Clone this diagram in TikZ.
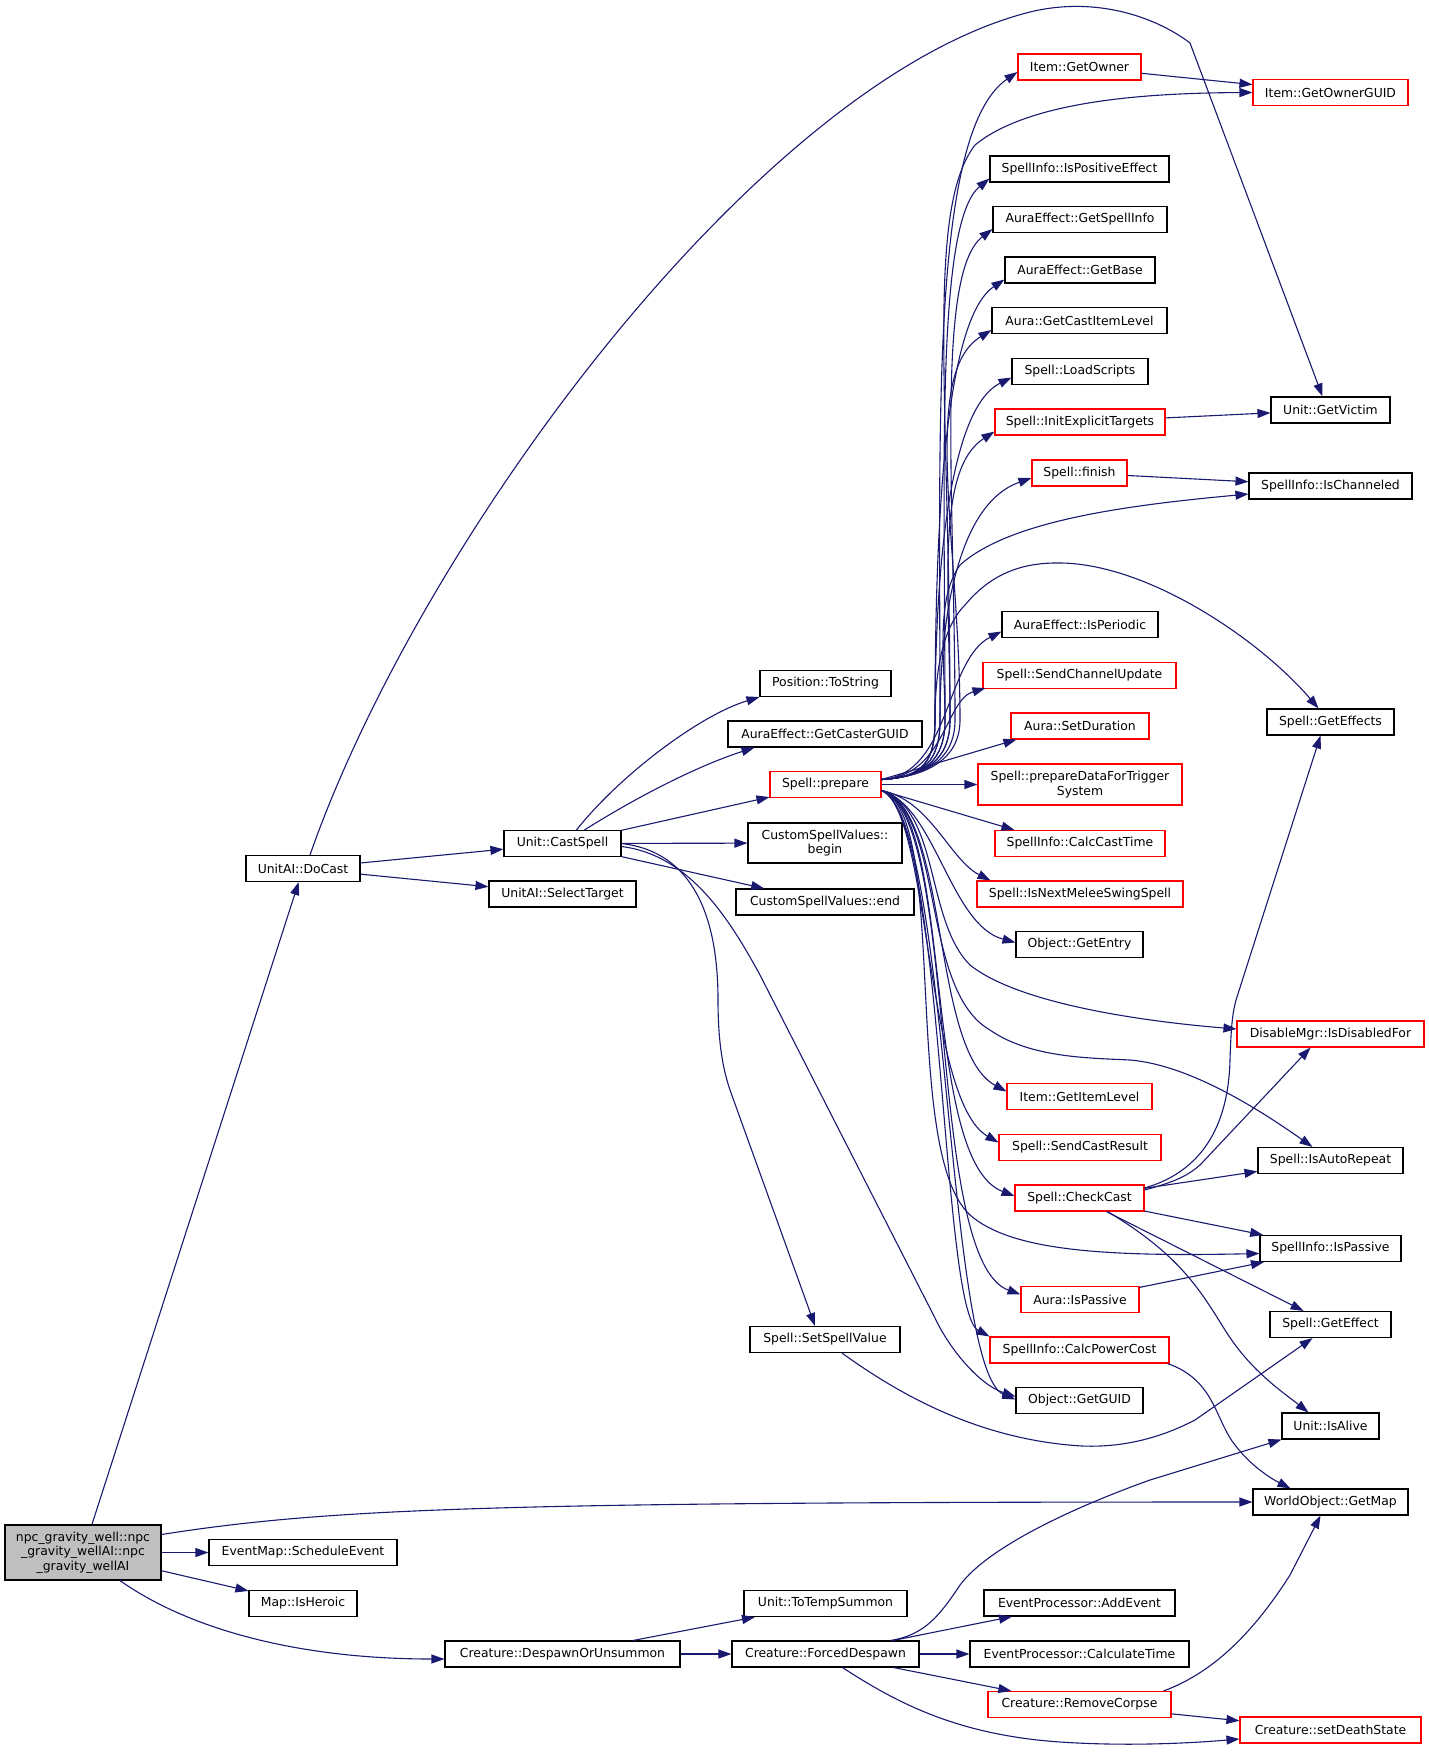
\documentclass[tikz,border=0pt]{standalone}
\usepackage{fontspec}
\setmainfont{DejaVu Sans}
\usetikzlibrary{arrows.meta,calc}
\definecolor{edgec}{HTML}{191970}
\definecolor{maingray}{HTML}{BFBFBF}
\newcommand\dxfont{\fontsize{12.4pt}{14.6pt}\selectfont}
\tikzset{
  nb/.style={draw=black, line width=1.1pt, fill=white, inner sep=0pt, minimum height=26pt, font=\dxfont, align=center},
  rb/.style={nb, draw=red},
  e/.style={draw=edgec, line width=1.1pt, -{Triangle[length=13pt,width=9pt]}, fill=none},
}
\begin{document}
\begin{tikzpicture}[x=1pt,y=-1pt]
\useasboundingbox (0,0) rectangle (1429,1753);
% column 1-2
\node[nb, fill=maingray, minimum width=156pt, minimum height=55pt] (main) at (83,1552.5) {npc\_gravity\_well::npc\\\_gravity\_wellAI::npc\\\_gravity\_wellAI};
\node[nb, minimum width=114pt] (docast) at (303,868.5) {UnitAI::DoCast};
\node[nb, minimum width=188pt] (schedule) at (303,1552.5) {EventMap::ScheduleEvent};
\node[nb, minimum width=108pt] (isheroic) at (303,1603.5) {Map::IsHeroic};
\node[nb, minimum width=117pt] (castspell) at (562.5,843.5) {Unit::CastSpell};
\node[nb, minimum width=147pt] (selecttarget) at (562.5,894) {UnitAI::SelectTarget};
\node[nb, minimum width=235pt] (despawn) at (562.5,1654) {Creature::DespawnOrUnsummon};
% column 3
\node[nb, minimum width=131pt] (tostring) at (825.5,683.5) {Position::ToString};
\node[nb, minimum width=194pt] (castercguid) at (825,734) {AuraEffect::GetCasterGUID};
\node[rb, minimum width=111pt] (prepare) at (825.5,784.5) {Spell::prepare};
\node[nb, minimum width=154pt, minimum height=40pt] (cbegin) at (825,843) {CustomSpellValues::\\begin};
\node[nb, minimum width=178pt] (cend) at (825,902) {CustomSpellValues::end};
\node[nb, minimum width=150pt] (setspellvalue) at (825,1339.5) {Spell::SetSpellValue};
\node[nb, minimum width=163pt] (totempsummon) at (825.5,1603.5) {Unit::ToTempSummon};
\node[nb, minimum width=187pt] (forced) at (825.5,1654) {Creature::ForcedDespawn};
% column 4
\node[rb, minimum width=123pt] (getowner) at (1079.5,67) {Item::GetOwner};
\node[nb, minimum width=179pt] (ispositive) at (1079.5,169) {SpellInfo::IsPositiveEffect};
\node[nb, minimum width=174pt] (getspellinfo) at (1080,219.5) {AuraEffect::GetSpellInfo};
\node[nb, minimum width=150pt] (getbase) at (1080,270) {AuraEffect::GetBase};
\node[nb, minimum width=175pt] (getcastitemlevel) at (1079.5,320.5) {Aura::GetCastItemLevel};
\node[nb, minimum width=136pt] (loadscripts) at (1080,371.5) {Spell::LoadScripts};
\node[rb, minimum width=170pt] (initexplicit) at (1080,422) {Spell::InitExplicitTargets};
\node[rb, minimum width=95pt] (finish) at (1079.5,473) {Spell::finish};
\node[nb, minimum width=156pt] (isperiodic) at (1080,624.5) {AuraEffect::IsPeriodic};
\node[rb, minimum width=193pt] (sendchannel) at (1079.5,675.5) {Spell::SendChannelUpdate};
\node[rb, minimum width=138pt] (setduration) at (1080,726) {Aura::SetDuration};
\node[rb, minimum width=204pt, minimum height=41pt] (pdfts) at (1080,784.5) {Spell::prepareDataForTrigger\\System};
\node[rb, minimum width=170pt] (calccasttime) at (1080,843.5) {SpellInfo::CalcCastTime};
\node[rb, minimum width=206pt] (isnextmelee) at (1080,894) {Spell::IsNextMeleeSwingSpell};
\node[nb, minimum width=127pt] (getentry) at (1079.5,944.5) {Object::GetEntry};
\node[rb, minimum width=145pt] (getitemlevel) at (1079.5,1096.5) {Item::GetItemLevel};
\node[rb, minimum width=162pt] (sendcastresult) at (1080,1147.5) {Spell::SendCastResult};
\node[rb, minimum width=129pt] (checkcast) at (1079.5,1198) {Spell::CheckCast};
\node[rb, minimum width=118pt] (aurapassive) at (1080,1299.5) {Aura::IsPassive};
\node[rb, minimum width=179pt] (calcpowercost) at (1079.5,1350) {SpellInfo::CalcPowerCost};
\node[nb, minimum width=127pt] (getguid) at (1079.5,1400.5) {Object::GetGUID};
\node[nb, minimum width=191pt] (addevent) at (1079.5,1603) {EventProcessor::AddEvent};
\node[nb, minimum width=219pt] (calctime) at (1079.5,1654) {EventProcessor::CalculateTime};
\node[rb, minimum width=183pt] (removecorpse) at (1079.5,1704.5) {Creature::RemoveCorpse};
% column 5
\node[rb, minimum width=155pt] (getownerguid) at (1330.5,92.5) {Item::GetOwnerGUID};
\node[nb, minimum width=119pt] (getvictim) at (1330.5,410) {Unit::GetVictim};
\node[nb, minimum width=163pt] (ischanneled) at (1330.5,486) {SpellInfo::IsChanneled};
\node[nb, minimum width=127pt] (geteffects) at (1330.5,722) {Spell::GetEffects};
\node[rb, minimum width=187pt] (isdisabledfor) at (1330.5,1034) {DisableMgr::IsDisabledFor};
\node[nb, minimum width=145pt] (isautorepeat) at (1330.5,1160.5) {Spell::IsAutoRepeat};
\node[nb, minimum width=141pt] (spellinfopassive) at (1330.5,1248.5) {SpellInfo::IsPassive};
\node[nb, minimum width=121pt] (geteffect) at (1330.5,1324.5) {Spell::GetEffect};
\node[nb, minimum width=97pt] (isalive) at (1330.5,1426) {Unit::IsAlive};
\node[nb, minimum width=155pt] (getmap) at (1330.5,1502) {WorldObject::GetMap};
\node[rb, minimum width=181pt] (setdeathstate) at (1330.5,1730) {Creature::setDeathState};

\coordinate (pu) at ($(prepare.east)+(0,-5)$);
\coordinate (pd) at ($(prepare.east)+(0,6)$);

% main
\draw[e] (main) -- (docast);
\draw[e] ($(main.east)+(0,-18)$) .. controls (330,1508) and (500,1502) .. (getmap.west);
\draw[e] (main) -- (schedule);
\draw[e] (main) -- (isheroic);
\draw[e] ($(main.south)+(37,0)$) .. controls (190,1630) and (300,1659) .. ($(despawn.west)+(0,5)$);
% DoCast
\draw[e] ($(docast.north)+(7,0)$) .. controls (420,540) and (760,80) .. (1030,12) .. controls (1100,-5) and (1160,20) .. (1190,43) -- ($(getvictim.north)+(-8,0)$);
\draw[e] (docast) -- (castspell);
\draw[e] (docast) -- (selecttarget);
% CastSpell
\draw[e] ($(castspell.north)+(14,0)$) .. controls (620,775) and (700,715) .. (tostring.south west);
\draw[e] ($(castspell.north)+(22,0)$) .. controls (640,795) and (700,765) .. ($(castercguid.south west)+(27,0)$);
\draw[e] (castspell) -- (prepare);
\draw[e] (castspell) -- (cbegin);
\draw[e] (castspell) -- (cend);
\draw[e] (castspell.east) .. controls (695,852) and (718,920) .. (718,1000) .. controls (718,1050) and (725,1075) .. (730,1090) -- ($(setspellvalue.north)+(-10,0)$);
\draw[e] ($(castspell.east)+(0,3)$) .. controls (690,855) and (730,920) .. (760,975) -- (935,1318) .. controls (950,1350) and (980,1385) .. ($(getguid.west)+(0,-4)$);
\draw[e] ($(setspellvalue.south)+(17,0)$) .. controls (900,1395) and (980,1440) .. (1082,1446) .. controls (1130,1448) and (1168,1434) .. (1195,1420) -- ($(geteffect.south)+(-18,0)$);
% prepare upper bundle
\draw[e] (pu) .. controls (925,777) and (940,760) .. (940,720) .. controls (940,428) and (930,132) .. ($(getowner.west)+(0,5)$);
\draw[e] (pu) .. controls (925,777) and (950,760) .. (950,720) .. controls (950,400) and (925,210) .. (975,145) .. controls (1030,100) and (1150,93) .. (getownerguid.west);
\draw[e] (pu) .. controls (925,777) and (945,760) .. (945,720) .. controls (945,477) and (935,223) .. ($(ispositive.south west)+(0,-4)$);
\draw[e] (pu) .. controls (925,777) and (955,760) .. (955,720) .. controls (955,499) and (935,273) .. ($(getspellinfo.south west)+(0,-4)$);
\draw[e] (pu) .. controls (925,777) and (935,760) .. (935,720) .. controls (935,522) and (945,319) .. ($(getbase.south west)+(0,-4)$);
\draw[e] (pu) .. controls (925,777) and (960,760) .. (960,720) .. controls (960,544) and (920,374) .. ($(getcastitemlevel.south west)+(0,-4)$);
\draw[e] (pu) .. controls (925,777) and (935,760) .. (935,720) .. controls (935,566) and (950,408) .. ($(loadscripts.west)+(0,6)$);
\draw[e] (pu) .. controls (925,777) and (950,760) .. (950,720) .. controls (950,590) and (935,470) .. ($(initexplicit.south west)+(0,-4)$);
\draw[e] (pu) .. controls (925,777) and (940,760) .. (940,720) .. controls (940,610) and (960,503) .. ($(finish.west)+(0,5)$);
\draw[e] (pu) .. controls (925,777) and (945,760) .. (945,720) .. controls (945,660) and (935,600) .. (960,565) .. controls (1010,520) and (1130,505) .. ($(ischanneled.west)+(0,8)$);
\draw[e] (pu) .. controls (925,777) and (935,760) .. (935,720) .. controls (935,680) and (940,630) .. (965,605) .. controls (990,575) and (1020,562) .. (1062,563) .. controls (1150,565) and (1260,640) .. ($(geteffects.north)+(-12,0)$);
\draw[e] (pu) .. controls (950,775) and (945,660) .. ($(isperiodic.west)+(0,7)$);
\draw[e] (pu) .. controls (945,776) and (945,700) .. ($(sendchannel.south west)+(3,-1)$);
\draw[e] (pu) -- ($(setduration.south west)+(6,0)$);
\draw[e] (prepare) -- (pdfts);
% prepare lower bundle
\draw[e] (pd) -- ($(calccasttime.north west)+(20,0)$);
\draw[e] (pd) .. controls (930,800) and (950,860) .. ($(isnextmelee.north west)+(14,0)$);
\draw[e] (pd) .. controls (935,805) and (950,925) .. ($(getentry.west)+(0,-2)$);
\draw[e] (pd) .. controls (940,810) and (925,920) .. (970,965) .. controls (1020,1005) and (1150,1022) .. ($(isdisabledfor.west)+(0,-5)$);
\draw[e] (pd) .. controls (945,815) and (920,990) .. (990,1030) .. controls (1030,1058) and (1090,1058) .. (1130,1060) .. controls (1190,1065) and (1260,1110) .. ($(isautorepeat.north)+(-18,0)$);
\draw[e] (pd) .. controls (950,810) and (930,1050) .. ($(getitemlevel.west)+(0,-5)$);
\draw[e] (pd) .. controls (930,810) and (925,1100) .. ($(sendcastresult.west)+(0,-5)$);
\draw[e] (pd) .. controls (955,810) and (920,1160) .. ($(checkcast.west)+(0,-2)$);
\draw[e] (pd) .. controls (950,815) and (900,1150) .. (970,1215) .. controls (1010,1250) and (1100,1257) .. ($(spellinfopassive.west)+(0,5)$);
\draw[e] (pd) .. controls (960,815) and (925,1260) .. ($(aurapassive.west)+(0,-5)$);
\draw[e] (pd) .. controls (945,815) and (940,1310) .. (calcpowercost.north west);
\draw[e] (pd) .. controls (950,815) and (945,1370) .. ($(getguid.west)+(0,-1)$);
% others
\draw[e] (getowner) -- (getownerguid);
\draw[e] (initexplicit) -- (getvictim);
\draw[e] (finish) -- (ischanneled);
\draw[e] ($(checkcast.east)+(0,-10)$) .. controls (1190,1175) and (1228,1140) .. (1230,1060) .. controls (1231,1030) and (1232,1015) .. (1236,1000) -- ($(geteffects.south)+(-10,0)$);
\draw[e] ($(checkcast.east)+(0,-8)$) .. controls (1170,1183) and (1185,1178) .. (1200,1165) -- ($(isdisabledfor.south)+(-20,0)$);
\draw[e] (checkcast) -- (isautorepeat);
\draw[e] (checkcast) -- (spellinfopassive);
\draw[e] (checkcast) -- (geteffect);
\draw[e] ($(checkcast.south)+(28,0)$) .. controls (1180,1255) and (1200,1290) .. (1225,1330) .. controls (1250,1370) and (1280,1390) .. ($(isalive.north)+(-22,0)$);
\draw[e] (aurapassive) -- (spellinfopassive);
\draw[e] ($(calcpowercost.south east)+(-2,0)$) .. controls (1215,1380) and (1215,1420) .. (1235,1445) .. controls (1250,1465) and (1270,1478) .. ($(getmap.north)+(-40,0)$);
\draw[e] (despawn) -- (totempsummon);
\draw[e] (despawn) -- (forced);
\draw[e] ($(forced.north east)+(-29,0)$) .. controls (925,1635) and (940,1615) .. (960,1585) .. controls (990,1545) and (1080,1505) .. (1150,1480) -- (isalive.south west);
\draw[e] (forced) -- (addevent);
\draw[e] (forced) -- (calctime);
\draw[e] (forced) -- (removecorpse);
\draw[e] ($(forced.south)+(17,0)$) .. controls (900,1705) and (960,1735) .. (1060,1742) .. controls (1120,1746) and (1180,1744) .. ($(setdeathstate.west)+(0,9)$);
\draw[e] ($(removecorpse.north east)+(-8,0)$) .. controls (1215,1672) and (1255,1630) .. (1290,1575) -- ($(getmap.south)+(-10,0)$);
\draw[e] (removecorpse) -- (setdeathstate);
\end{tikzpicture}
\end{document}
